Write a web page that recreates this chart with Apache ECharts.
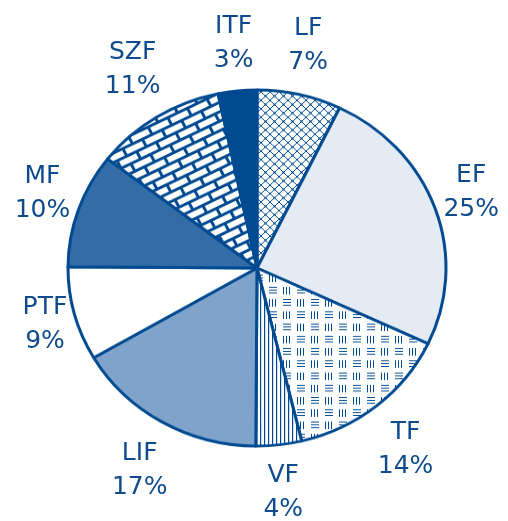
<!DOCTYPE html>
<html>
<head>
<meta charset="utf-8">
<script src="https://cdn.jsdelivr.net/npm/echarts@6/dist/echarts.min.js"></script>
<style>
html,body{margin:0;padding:0;background:#fff;}
#pie,#lab{position:absolute;left:0;top:0;width:508px;height:521px;}
#pie{transform:scaleY(0.942);transform-origin:257px 268px;}
#lab{pointer-events:none;}
</style>
</head>
<body>
<div id="pie"></div>
<div id="lab"></div>
<script>
const categories = ['LF', 'EF', 'TF', 'VF', 'LIF', 'PTF', 'MF', 'SZF', 'ITF'];
const values = [7.2, 24.8, 14.2, 3.9, 16.5, 8.5, 10.4, 11.2, 3.3];

const DARK = '#004a91';
const TEXT = '#0f4a8d';
const CX = 257, CY = 268, RX = 189, RY = 178, LABEL_R = 191;

function makeCanvas(w, h, draw) {
  const c = document.createElement('canvas');
  c.width = w; c.height = h;
  const ctx = c.getContext('2d');
  ctx.fillStyle = '#ffffff';
  ctx.fillRect(0, 0, w, h);
  ctx.strokeStyle = DARK;
  ctx.fillStyle = DARK;
  draw(ctx);
  return c;
}

const crossHatch = makeCanvas(9, 9, ctx => {
  ctx.lineWidth = 1;
  ctx.beginPath();
  ctx.moveTo(-1, -1); ctx.lineTo(10, 10);
  ctx.moveTo(10, -1); ctx.lineTo(-1, 10);
  ctx.stroke();
  ctx.fillRect(3.5, 3.5, 2, 2);
});

const weave = makeCanvas(28, 26, ctx => {
  function vert(x, y) { for (let i = 0; i < 3; i++) ctx.fillRect(x + i * 3, y, 1, 8); }
  function horz(x, y) { for (let i = 0; i < 3; i++) ctx.fillRect(x, y + i * 3, 8, 1); }
  vert(3, 2); horz(17, 2);
  horz(3, 15); vert(17, 15);
});

const vlines = makeCanvas(4, 4, ctx => {
  ctx.fillRect(0, 0, 1.2, 4);
});

const brick = makeCanvas(22, 18, ctx => {
  ctx.fillRect(0, 0, 22, 3);
  ctx.fillRect(0, 9, 22, 3);
  ctx.fillRect(0, 0, 3, 9);
  ctx.fillRect(11, 9, 3, 9);
});

const fills = [
  { image: crossHatch, repeat: 'repeat' },
  '#e4ebf5',
  { image: weave, repeat: 'repeat' },
  { image: vlines, repeat: 'repeat' },
  '#7fa3ca',
  '#ffffff',
  '#336ca6',
  { image: brick, repeat: 'repeat', rotation: -0.47 },
  DARK
];

const pieData = categories.map((c, i) => ({
  name: c,
  value: values[i],
  itemStyle: { color: fills[i] }
}));

const pieChart = echarts.init(document.getElementById('pie'), null, { renderer: 'canvas' });
pieChart.setOption({
  animation: false,
  backgroundColor: 'transparent',
  series: [{
    type: 'pie',
    center: [CX, CY],
    radius: [0, RX],
    startAngle: 90,
    clockwise: true,
    silent: true,
    label: { show: false },
    labelLine: { show: false },
    itemStyle: { borderColor: DARK, borderWidth: 3 },
    data: pieData
  }]
});

const total = values.reduce((a, b) => a + b, 0);
function midAngle(idx) {
  let s = 0;
  for (let i = 0; i < idx; i++) s += values[i];
  return (s + values[idx] / 2) / total * Math.PI * 2;
}
function clamp0(lo, hi) { return lo > 0 ? lo : (hi < 0 ? hi : 0); }

const labChart = echarts.init(document.getElementById('lab'), null, { renderer: 'canvas' });
labChart.setOption({
  animation: false,
  backgroundColor: 'transparent',
  series: [{
    type: 'pie',
    center: [CX, CY],
    radius: [0, RX],
    startAngle: 90,
    clockwise: true,
    silent: true,
    avoidLabelOverlap: false,
    percentPrecision: 0,
    itemStyle: { color: 'transparent', borderWidth: 0 },
    labelLine: { show: false },
    label: {
      show: true,
      position: 'inside',
      rotate: 0,
      formatter: '{b}\n{d}%',
      color: TEXT,
      fontFamily: 'DejaVu Sans, Verdana, sans-serif',
      fontSize: 25,
      lineHeight: 34,
      align: 'center',
      textBorderWidth: 0
    },
    labelLayout: function (p) {
      const a = midAngle(p.dataIndex);
      const dx = Math.sin(a), dy = -Math.cos(a);
      const hw = p.labelRect.width / 2, hh = p.labelRect.height / 2;
      let lo = 0, hi = 500;
      for (let k = 0; k < 40; k++) {
        const d = (lo + hi) / 2;
        const cx = dx * d, cy = dy * d;
        const nx = clamp0(cx - hw, cx + hw), ny = clamp0(cy - hh, cy + hh);
        if (Math.hypot(nx, ny) < LABEL_R) lo = d; else hi = d;
      }
      const d = (lo + hi) / 2;
      return { x: CX + dx * d, y: CY + dy * d, align: 'center', verticalAlign: 'middle' };
    },
    data: categories.map((c, i) => ({ name: c, value: values[i] }))
  }]
});
</script>
</body>
</html>
